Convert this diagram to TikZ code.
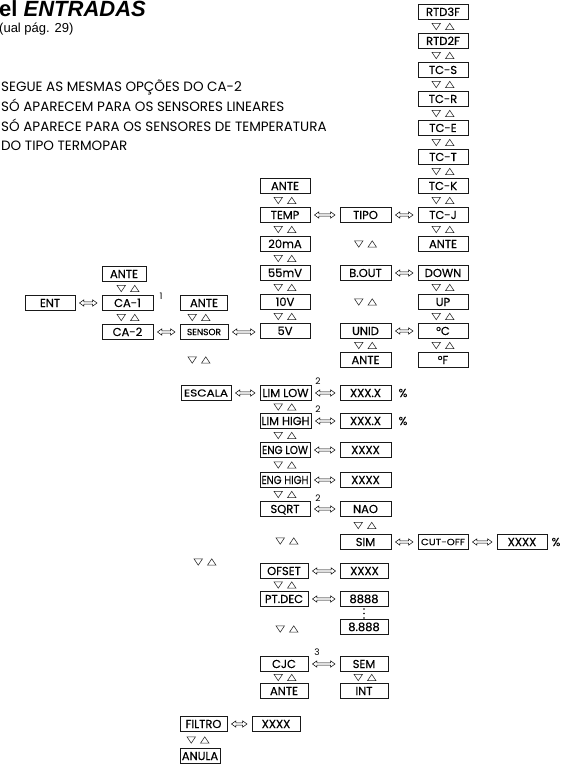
\documentclass[tikz,border=0pt]{standalone}
\usepackage{fontspec}
\setmainfont{Poppins}
\newfontfamily\boxf{Poppins}[FakeBold=0.3]
\newfontfamily\arialf{Liberation Sans}
\usepackage{graphicx}
\usetikzlibrary{arrows.meta,calc}
\tikzset{
  bx/.style={draw=black!90, line width=0.9pt, minimum height=15pt, minimum width=50pt, inner sep=0pt, font=\boxf\fontsize{11.5}{12}\selectfont, text height=8pt, text depth=0pt},
  sbx/.style={bx, font=\boxf\fontsize{9}{10}\selectfont, text height=6.3pt},
  dar/.style={line width=0.5pt, line join=miter, to path={let \p1=(\tikztostart), \p2=(\tikztotarget) in
    ({\x1+4pt},\y1) -- ({\x1+8.5pt},{\y1+3.2pt}) -- ({\x1+8.5pt},{\y1+1.2pt}) -- ({\x2-9pt},{\y1+1.2pt}) -- ({\x2-9pt},{\y1+3.2pt}) -- ({\x2-4.5pt},\y1) -- ({\x2-9pt},{\y1-3.2pt}) -- ({\x2-9pt},{\y1-1.2pt}) -- ({\x1+8.5pt},{\y1-1.2pt}) -- ({\x1+8.5pt},{\y1-3.2pt}) -- cycle}},
  supn/.style={font=\fontsize{9}{10}\selectfont, inner sep=0pt},
  pct/.style={font=\boxf\fontsize{11.5}{12}\selectfont, inner sep=0pt},
  note/.style={anchor=base west, inner sep=0pt, font=\fontsize{13.5}{14}\selectfont},
  ud/.pic={\draw[line width=0.55pt, black!85] (-11,-3.2) -- (-2.5,-3.2) -- (-6.75,3.2) -- cycle;
           \draw[line width=0.55pt, black!85] (2.5,3.2) -- (11,3.2) -- (6.75,-3.2) -- cycle;}
}
\newcommand{\cond}[2]{\resizebox{#1}{\height}{#2}}
\begin{document}
\begin{tikzpicture}[x=1pt,y=-1pt]
\fill[white] (0,0) rectangle (582,770);
\useasboundingbox (0,0) rectangle (582,770);

% header texts
\node[anchor=base west, inner sep=0pt, font=\arialf\bfseries\fontsize{22}{24}\selectfont] (title) at (-1,17) {el \textit{ENTRADAS}};
\node[anchor=base west, inner sep=0pt, font=\arialf\fontsize{13}{14}\selectfont] (sub) at (-1,33) {(ual pág. 29)};
\node[note] (n1) at (1,92) {SEGUE AS MESMAS OPÇÕES DO CA-2};
\node[note] (n2) at (1,112) {SÓ APARECEM PARA OS SENSORES LINEARES};
\node[note] (n3) at (1,132) {SÓ APARECE PARA OS SENSORES DE TEMPERATURA};
\node[note] (n4) at (1,151) {DO TIPO TERMOPAR};

% left part
\node[bx] (ent) at (50,303) {ENT};
\node[bx, minimum width=44pt] (ante1) at (124,274) {ANTE};
\node[bx, minimum width=51pt] (ca1) at (127.5,303) {CA-1};
\node[bx, minimum width=51pt] (ca2) at (127.5,332) {CA-2};
\node[bx, minimum width=47pt] (ante2) at (204,303) {ANTE};
\node[sbx, minimum width=48pt] (sensor) at (204,332) {SENSOR};
\node[supn] (s1) at (161,296) {1};

% TEMP column
\node[bx] (antet) at (285,186) {ANTE};
\node[bx] (temp) at (285,215) {TEMP};
\node[bx] (ma) at (285,244) {20mA};
\node[bx] (mv) at (285,273) {55mV};
\node[bx] (v10) at (285,302) {10V};
\node[bx] (v5) at (285,331) {5V};

% TIPO column
\node[bx, minimum width=51pt] (tipo) at (365.5,215) {TIPO};
\node[bx, minimum width=51pt] (bout) at (365.5,273) {B.OUT};
\node[bx, minimum width=51pt] (unid) at (365.5,331) {UNID};
\node[bx, minimum width=51pt] (ante3) at (365.5,360) {ANTE};

% right column
\node[bx] (rtd3) at (443,12) {RTD3F};
\node[bx] (rtd2) at (443,41) {RTD2F};
\node[bx] (tcs) at (443,70) {TC-S};
\node[bx] (tcr) at (443,99) {TC-R};
\node[bx] (tce) at (443,128) {TC-E};
\node[bx] (tct) at (443,157) {TC-T};
\node[bx] (tck) at (443,186) {TC-K};
\node[bx] (tcj) at (443,215) {TC-J};
\node[bx] (ante4) at (443,244) {ANTE};
\node[bx] (down) at (443,273) {DOWN};
\node[bx] (up) at (443,302) {UP};
\node[bx] (degc) at (443,331) {°C};
\node[bx] (degf) at (443,360) {°F};

% lower part
\node[bx, font=\boxf\fontsize{10}{11}\selectfont, text height=7pt] (escala) at (206,393) {\cond{44pt}{ESCALA}};
\node[bx, minimum width=51pt] (limlow) at (285.5,393) {\cond{46pt}{LIM LOW}};
\node[bx, minimum width=51pt] (xxx1) at (365.5,393) {XXX.X};
\node[pct] (p1) at (403,393) {\%};
\node[bx, minimum width=51pt] (limhigh) at (285.5,421) {\cond{48pt}{LIM HIGH}};
\node[bx, minimum width=51pt] (xxx2) at (365.5,421) {XXX.X};
\node[pct] (p2) at (403,421) {\%};
\node[bx] (englow) at (285,450) {\cond{46pt}{ENG LOW}};
\node[bx, minimum width=51pt] (xxxx1) at (365.5,450) {XXXX};
\node[bx] (enghigh) at (285,480) {\cond{47pt}{ENG HIGH}};
\node[bx, minimum width=51pt] (xxxx2) at (365.5,480) {XXXX};
\node[bx] (sqrt) at (285,509) {SQRT};
\node[bx, minimum width=51pt] (nao) at (365.5,509) {NAO};
\node[supn] (s2a) at (318,381) {2};
\node[supn] (s2b) at (318,409) {2};
\node[supn] (s2c) at (318,498) {2};
\node[bx, minimum width=51pt] (sim) at (365.5,542) {SIM};
\node[sbx] (cutoff) at (443,542) {\cond{44pt}{CUT-OFF}};
\node[bx] (xxxx3) at (522,542) {XXXX};
\node[pct] (p3) at (556,542) {\%};
\node[bx, minimum width=48pt] (ofset) at (284,571) {OFSET};
\node[bx, minimum width=48pt] (xxxx4) at (364.5,571) {XXXX};
\node[bx, minimum width=48pt] (ptdec) at (284,599) {PT.DEC};
\node[bx, minimum width=48pt] (n8888) at (364,599) {8888};
\node[bx, minimum width=48pt] (n8888b) at (364,627) {8.888};
\foreach \yy in {609,613.5,618} \fill (364,\yy) circle (0.8pt);
\node[bx, minimum width=48pt] (cjc) at (284,664) {CJC};
\node[bx, minimum width=48pt] (sem) at (364,664) {SEM};
\node[supn] (s3) at (317,652) {3};
\node[bx, minimum width=48pt] (ante5) at (284,691) {ANTE};
\node[bx, minimum width=48pt] (int) at (364,691) {INT};
\node[bx, minimum width=47pt] (filtro) at (203.5,724) {FILTRO};
\node[bx, minimum width=48pt] (xxxx5) at (276,724) {XXXX};
\node[bx, minimum width=40pt] (anula) at (200,756) {ANULA};

% connectors
\draw[dar] (ent.east) to (ca1.west);
\draw[dar] (ca2.east) to (sensor.west);
\draw[dar] (sensor.east) to (v5.west);
\draw[dar] (temp.east) to (tipo.west);
\draw[dar] (tipo.east) to (tcj.west);
\draw[dar] (bout.east) to (down.west);
\draw[dar] (unid.east) to (degc.west);
\draw[dar] (escala.east) to (limlow.west);
\draw[dar] (limlow.east) to (xxx1.west);
\draw[dar] (limhigh.east) to (xxx2.west);
\draw[dar] (englow.east) to (xxxx1.west);
\draw[dar] (enghigh.east) to (xxxx2.west);
\draw[dar] (sqrt.east) to (nao.west);
\draw[dar] (sim.east) to (cutoff.west);
\draw[dar] (cutoff.east) to (xxxx3.west);
\draw[dar] (ofset.east) to (xxxx4.west);
\draw[dar] (ptdec.east) to (n8888.west);
\draw[dar] (cjc.east) to (sem.west);
\draw[dar] (filtro.east) to (xxxx5.west);

% up/down marks
\foreach \yy in {26.5,55.5,84.5,113.5,142.5,171.5,200.5,229.5,287.5,316.5,345.5} \pic at (443,\yy) {ud};
\foreach \yy in {200.5,229.5,258.5,287.5,316.5} \pic at (285,\yy) {ud};
\foreach \yy in {244,302,345.5} \pic at (365.5,\yy) {ud};
\foreach \yy in {288.5,317.5} \pic at (128,\yy) {ud};
\foreach \yy in {317.5,360} \pic at (199,\yy) {ud};
\foreach \yy in {407,435.5,465,494.5,585,677.5} \pic at (285,\yy) {ud};
\pic at (287,541) {ud};
\pic at (287,629) {ud};
\foreach \yy in {525.5,677.5} \pic at (365,\yy) {ud};
\pic at (205,562) {ud};
\pic at (198,740) {ud};
\end{tikzpicture}
\end{document}
